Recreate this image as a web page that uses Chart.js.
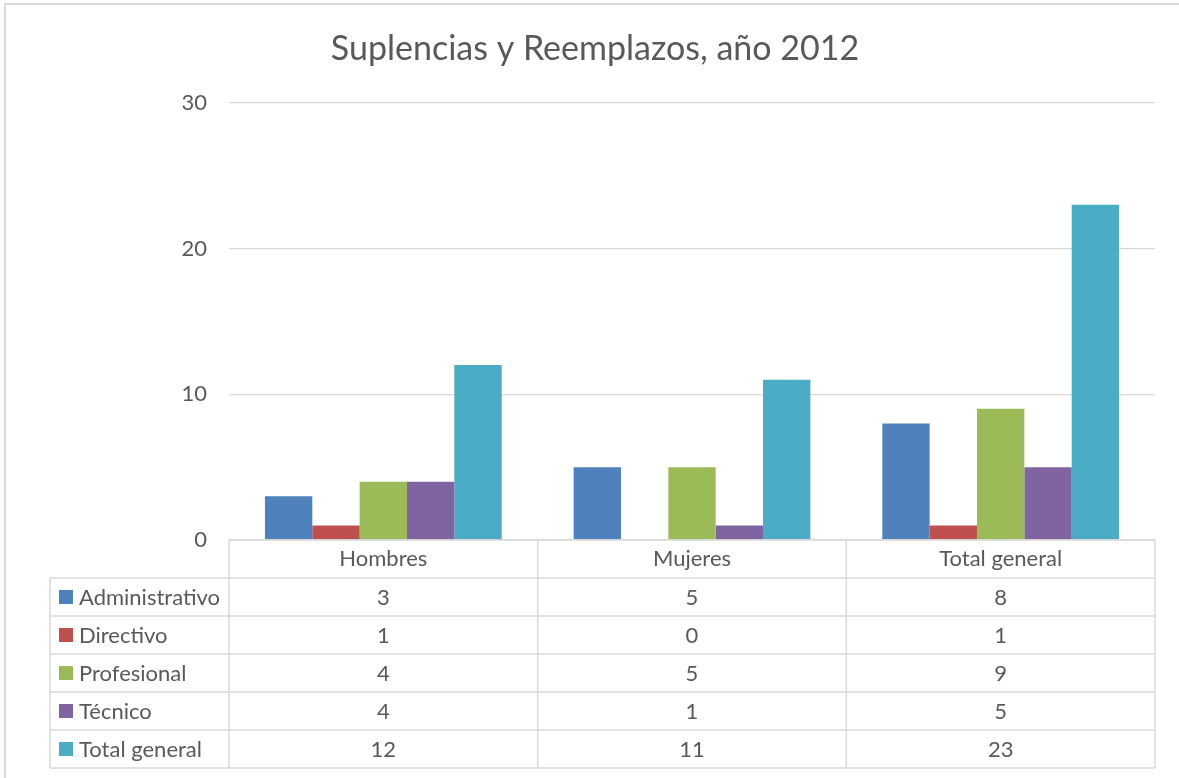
<!DOCTYPE html>
<html>
<head>
<meta charset="utf-8">
<script src="https://cdn.jsdelivr.net/npm/chart.js@4"></script>
<style>
html,body{margin:0;padding:0;background:#fff;}
#wrap{width:1179px;height:778px;}
</style>
</head>
<body>
<div id="wrap"><canvas id="c" width="1179" height="778"></canvas></div>
<script>
const categories = ["Hombres", "Mujeres", "Total general"];
const administrativo = [3, 5, 8];
const directivo = [1, 0, 1];
const profesional = [4, 5, 9];
const tecnico = [4, 1, 5];
const totalGeneral = [12, 11, 23];
const seriesNames = ["Administrativo", "Directivo", "Profesional", "Técnico", "Total general"];
const seriesColors = ["#4F81BD", "#C0504D", "#9BBB59", "#8064A2", "#4BACC6"];
const yTicks = [0, 10, 20, 30];
const titleText = "Suplencias y Reemplazos, año 2012";

const FONT = "Lato";
const TXT = "#595959";
const LINE = "#d9d9d9";
const allSeries = [administrativo, directivo, profesional, tecnico, totalGeneral];

const tablePlugin = {
  id: 'dataTable',
  beforeDraw(chart) {
    const ctx = chart.ctx;
    ctx.save();
    ctx.fillStyle = '#fff';
    ctx.fillRect(0, 0, chart.width, chart.height);
    ctx.strokeStyle = LINE;
    ctx.lineWidth = 2;
    ctx.beginPath();
    ctx.moveTo(5, chart.height + 5);
    ctx.lineTo(5, 4);
    ctx.lineTo(chart.width + 5, 4);
    ctx.stroke();
    ctx.restore();
  },
  afterDraw(chart) {
    const ctx = chart.ctx;
    const xs = chart.scales.x;
    const area = chart.chartArea;
    const left = xs.left, right = xs.right;
    const n = categories.length;
    const colW = (right - left) / n;
    const top = area.bottom;
    const headerH = 38;
    const rowH = 38;
    const keyLeft = 50;
    const tableBottom = top + headerH + rowH * seriesNames.length;
    ctx.save();
    ctx.strokeStyle = LINE;
    ctx.lineWidth = 1.5;
    ctx.beginPath();
    ctx.moveTo(left, top); ctx.lineTo(right, top);
    for (let r = 0; r <= seriesNames.length; r++) {
      const y = top + headerH + r * rowH;
      ctx.moveTo(keyLeft, y); ctx.lineTo(right, y);
    }
    for (let i = 0; i <= n; i++) {
      const x = left + i * colW;
      ctx.moveTo(x, top); ctx.lineTo(x, tableBottom);
    }
    ctx.moveTo(keyLeft, top + headerH); ctx.lineTo(keyLeft, tableBottom);
    ctx.stroke();

    ctx.font = "22px " + FONT;
    ctx.fillStyle = TXT;
    ctx.textBaseline = 'middle';
    for (let r = 0; r < seriesNames.length; r++) {
      const cy = top + headerH + r * rowH + rowH / 2;
      ctx.fillStyle = seriesColors[r];
      ctx.fillRect(59, cy - 7, 14, 14);
      ctx.fillStyle = TXT;
      ctx.textAlign = 'left';
      ctx.fillText(seriesNames[r], 79, cy + 1);
      ctx.textAlign = 'center';
      for (let i = 0; i < n; i++) {
        ctx.fillText(String(allSeries[r][i]), xs.getPixelForValue(i), cy + 1);
      }
    }
    ctx.restore();
  }
};

new Chart(document.getElementById('c'), {
  type: 'bar',
  data: {
    labels: categories,
    datasets: seriesNames.map((name, k) => ({
      label: name,
      data: allSeries[k],
      backgroundColor: seriesColors[k],
      borderWidth: 0
    }))
  },
  options: {
    responsive: false,
    animation: false,
    devicePixelRatio: 1,
    datasets: { bar: { categoryPercentage: 0.767, barPercentage: 1.0 } },
    layout: { padding: { left: 35, right: 24, top: 0, bottom: 200 } },
    plugins: {
      legend: { display: false },
      tooltip: { enabled: false },
      title: {
        display: true,
        text: titleText,
        color: TXT,
        font: { family: FONT, size: 34, weight: 'normal' },
        padding: { top: 29, bottom: 33 }
      }
    },
    scales: {
      x: {
        grid: { display: false, drawTicks: false },
        border: { display: false },
        ticks: { color: TXT, font: { family: FONT, size: 22 }, padding: 6 },
        afterFit(s) { s.height = 38; }
      },
      y: {
        min: 0, max: 30,
        afterBuildTicks(s) { s.ticks = yTicks.map(v => ({ value: v })); },
        grid: { color: LINE, lineWidth: 1.3, drawTicks: false },
        border: { display: false },
        ticks: { color: TXT, font: { family: FONT, size: 22 }, padding: 22 },
        afterFit(s) { s.width = 194; }
      }
    }
  },
  plugins: [tablePlugin]
});
</script>
</body>
</html>
